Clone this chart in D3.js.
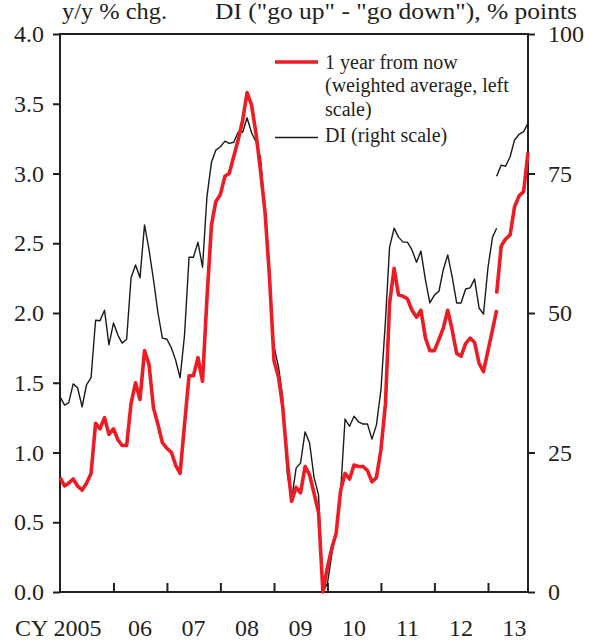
<!DOCTYPE html>
<html>
<head>
<meta charset="utf-8">
<script src="https://cdn.jsdelivr.net/npm/d3@7"></script>
<style>
  body { margin: 0; background: #fff; }
  svg text { font-family: "Liberation Serif", "Times New Roman", serif; fill: #231f20; }
</style>
</head>
<body>
<svg id="chart" width="590" height="641"></svg>
<script>
// monthly, Jan 2005 onwards
var startMonth = new Date(2005, 0, 1);
var yearLabels = ["CY 2005", "06", "07", "08", "09", "10", "11", "12", "13"];
var leftTicks = [0, 0.5, 1.0, 1.5, 2.0, 2.5, 3.0, 3.5, 4.0];
var rightTicks = [0, 25, 50, 75, 100];

// 1 year from now, weighted average (old survey method, Jan 2005 - Mar 2013)
var expectOld = [
  0.82, 0.76, 0.78, 0.81, 0.76, 0.73, 0.78, 0.85, 1.21, 1.17, 1.25, 1.13,
  1.17, 1.09, 1.05, 1.05, 1.35, 1.50, 1.38, 1.73, 1.63, 1.32, 1.20, 1.07,
  1.03, 1.00, 0.91, 0.85, 1.20, 1.55, 1.55, 1.68, 1.51, 2.10, 2.63, 2.80,
  2.85, 2.98, 3.00, 3.12, 3.24, 3.38, 3.58, 3.49, 3.28, 3.02, 2.72, 2.26,
  1.66, 1.54, 1.33, 0.95, 0.65, 0.75, 0.71, 0.90, 0.84, 0.71, 0.57, 0.00,
  0.18, 0.32, 0.42, 0.73, 0.85, 0.81, 0.91, 0.90, 0.90, 0.87, 0.79, 0.82,
  1.02, 1.35, 2.07, 2.32, 2.13, 2.12, 2.10, 2.02, 1.97, 2.02, 1.82, 1.73,
  1.73, 1.81, 1.89, 2.02, 1.88, 1.71, 1.69, 1.78, 1.82, 1.79, 1.64, 1.58,
  1.73, 1.88, 2.02
];
// new survey method (Mar 2013 - Oct 2013)
var expectNew = [2.14, 2.48, 2.53, 2.56, 2.76, 2.84, 2.87, 3.15];

// DI ("go up" - "go down")
var diOld = [
  35.0, 33.5, 33.9, 37.3, 36.6, 33.2, 37.1, 38.4, 48.7, 48.6, 50.5, 44.3,
  48.2, 46.0, 44.6, 45.3, 56.3, 58.6, 56.3, 65.8, 61.3, 56.0, 50.0, 45.5,
  45.3, 43.7, 41.6, 38.4, 46.0, 60.0, 60.0, 62.7, 58.2, 70.8, 77.0, 79.2,
  79.8, 80.8, 80.4, 80.6, 82.4, 82.4, 85.0, 82.3, 80.6, 77.8, 68.0, 56.0,
  44.0, 40.3, 35.0, 21.3, 16.5, 22.2, 23.1, 28.7, 26.7, 20.6, 17.4, 0.0,
  1.6, 7.0, 10.6, 18.0, 31.0, 29.7, 31.5, 30.5, 30.1, 30.1, 27.4, 29.9,
  36.2, 48.7, 61.8, 65.2, 63.6, 62.7, 62.7, 61.3, 59.1, 61.1, 55.9, 51.8,
  53.2, 53.9, 57.7, 60.4, 56.5, 51.8, 51.8, 54.3, 54.5, 56.1, 50.9, 49.8,
  58.2, 63.6, 65.2
];
var diNew = [74.5, 76.5, 76.3, 78.0, 81.0, 82.0, 82.5, 84.0];

var svg = d3.select("#chart");
var plotLeft = 60, plotRight = 528, plotTop = 34, plotBottom = 592;

var x = d3.scaleTime()
  .domain([startMonth, new Date(2013, 9, 1)])
  .range([plotLeft, plotRight]);
var yL = d3.scaleLinear().domain([0, 4]).range([plotBottom, plotTop]);
var yR = d3.scaleLinear().domain([0, 100]).range([plotBottom, plotTop]);

var monthAt = function (i) { return d3.timeMonth.offset(startMonth, i); };
var oldOffset = 0, newOffset = expectOld.length - 1;

// frame
svg.append("rect")
  .attr("x", plotLeft).attr("y", plotTop)
  .attr("width", plotRight - plotLeft).attr("height", plotBottom - plotTop)
  .attr("fill", "none").attr("stroke", "#231f20").attr("stroke-width", 2);

// left axis, ticks outward
var axL = svg.append("g")
  .attr("transform", "translate(" + plotLeft + ",0)")
  .call(d3.axisLeft(yL).tickValues(leftTicks).tickFormat(d3.format(".1f")).tickSize(7).tickPadding(9));
// right axis
var axR = svg.append("g")
  .attr("transform", "translate(" + plotRight + ",0)")
  .call(d3.axisRight(yR).tickValues(rightTicks).tickSize(7).tickPadding(13));
// bottom axis, year ticks inward
var years = d3.timeYear.range(new Date(2006, 0, 1), new Date(2014, 0, 1));
var axB = svg.append("g")
  .attr("transform", "translate(0," + plotBottom + ")")
  .call(d3.axisBottom(x).tickValues(years).tickSize(-9).tickFormat(""));

[axL, axR, axB].forEach(function (g) {
  g.select(".domain").remove();
  g.selectAll("line").attr("stroke", "#231f20").attr("stroke-width", 2);
  g.selectAll("text").attr("font-size", 24).attr("fill", "#231f20");
  g.attr("font-family", null);
});

// year labels centred in each year
svg.append("g").selectAll("text")
  .data(yearLabels)
  .enter()
  .append("text")
  .attr("x", function (d, i) {
    var mid = x(d3.timeMonth.offset(new Date(2005 + i, 0, 1), 6));
    return i === 0 ? mid + 15 : mid;
  })
  .attr("y", 636)
  .attr("text-anchor", function (d, i) { return i === 0 ? "end" : "middle"; })
  .attr("font-size", 24)
  .text(function (d) { return d; });

// axis titles (slightly wide type in the original)
svg.append("text").attr("x", 62).attr("y", 19).attr("font-size", 23)
  .attr("textLength", 105).attr("lengthAdjust", "spacingAndGlyphs")
  .text("y/y % chg.");
svg.append("text").attr("x", 215).attr("y", 19).attr("font-size", 23)
  .attr("textLength", 362).attr("lengthAdjust", "spacingAndGlyphs")
  .text("DI (\"go up\" - \"go down\"), % points");

// lines
var lineL = function (offset) {
  return d3.line()
    .x(function (d, i) { return x(monthAt(offset + i)); })
    .y(function (d) { return yL(d); });
};
var lineR = function (offset) {
  return d3.line()
    .x(function (d, i) { return x(monthAt(offset + i)); })
    .y(function (d) { return yR(d); });
};

var plot = svg.append("g");
[[diOld, oldOffset], [diNew, newOffset]].forEach(function (s) {
  plot.append("path")
    .attr("d", lineR(s[1])(s[0]))
    .attr("fill", "none").attr("stroke", "#1a1a1a").attr("stroke-width", 1.4)
    .attr("stroke-linejoin", "round");
});
[[expectOld, oldOffset], [expectNew, newOffset]].forEach(function (s) {
  plot.append("path")
    .attr("d", lineL(s[1])(s[0]))
    .attr("fill", "none").attr("stroke", "#ed1c24").attr("stroke-width", 3.6)
    .attr("stroke-linejoin", "round");
});

// legend
var legend = svg.append("g");
legend.append("line").attr("x1", 275).attr("x2", 318).attr("y1", 62).attr("y2", 62)
  .attr("stroke", "#ed1c24").attr("stroke-width", 3.6);
legend.append("line").attr("x1", 275).attr("x2", 318).attr("y1", 137.5).attr("y2", 137.5)
  .attr("stroke", "#1a1a1a").attr("stroke-width", 1.4);
var legendLines = ["1 year from now", "(weighted average, left", "scale)", "DI (right scale)"];
legend.selectAll("text")
  .data(legendLines)
  .enter()
  .append("text")
  .attr("x", 325)
  .attr("y", function (d, i) { return [68.5, 92, 115.5, 142][i]; })
  .attr("font-size", 20)
  .text(function (d) { return d; });
</script>
</body>
</html>
